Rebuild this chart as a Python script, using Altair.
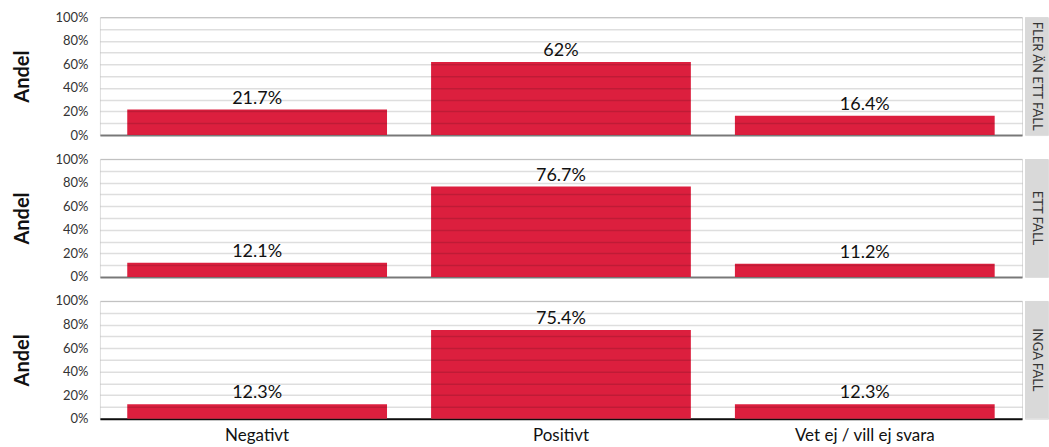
import altair as alt
import pandas as pd

groups = ["FLER ÄN ETT FALL", "ETT FALL", "INGA FALL"]
categories = ["Negativt", "Positivt", "Vet ej / vill ej svara"]
values_fler = [21.7, 62.0, 16.4]
values_ett = [12.1, 76.7, 11.2]
values_inga = [12.3, 75.4, 12.3]
series = [values_fler, values_ett, values_inga]
grid_values = [0, 10, 20, 30, 40, 50, 60, 70, 80, 90, 100]

BAR = "#DC1F3E"
W, H = 923, 118
FONT = "Lato"

rows = []
for gi, (g, vals) in enumerate(zip(groups, series)):
    bottom = gi == len(groups) - 1
    df = pd.DataFrame({"kategori": categories, "andel": vals})
    x_axis = alt.Axis(
        title=None, labels=bottom, ticks=False, domain=True,
        domainColor="#111" if bottom else "#8a8a8a", domainWidth=2,
        labelFontSize=17, labelColor="#111", labelPadding=9, labelAngle=0,
        labelFont=FONT,
    )
    x = alt.X("kategori:N", sort=categories, axis=x_axis,
              scale=alt.Scale(paddingInner=0.145, paddingOuter=0.09))
    y = alt.Y(
        "andel:Q",
        scale=alt.Scale(domain=[0, 100], nice=False),
        axis=alt.Axis(
            title="Andel", titleFontSize=20, titleFontWeight="bold",
            titleColor="#111", titleFont=FONT, titlePadding=22,
            values=grid_values, tickCount=11,
            labelExpr="datum.value % 20 == 0 ? datum.value + '%' : ''",
            labelOverlap=False,
            labelFontSize=13, labelColor="#333", labelFont=FONT, labelPadding=12,
            ticks=False, domain=False, grid=True, gridColor="#000",
            gridOpacity=0.13, gridWidth=1.5, zindex=1,
        ),
    )
    base = alt.Chart(df).transform_calculate(
        label="format(datum.andel, '.1~f') + '%'"
    ).encode(x=x, y=y)
    bars = base.mark_bar(color=BAR)
    text = base.mark_text(
        baseline="bottom", dy=-2, fontSize=18, color="#111", font=FONT
    ).encode(text="label:N")
    panel = alt.layer(bars, text).properties(width=W, height=H)

    sdf = pd.DataFrame({"grupp": [g]})
    strip_rect = alt.Chart(sdf).mark_rect(color="#d9d9d9").encode(
        x=alt.value(0), x2=alt.value(23), y=alt.value(0), y2=alt.value(H)
    )
    strip_text = alt.Chart(sdf).mark_text(
        angle=90, fontSize=13, color="#333", font=FONT, align="center",
        baseline="middle",
    ).encode(x=alt.value(12), y=alt.value(H / 2), text="grupp:N")
    strip = alt.layer(strip_rect, strip_text).properties(width=23, height=H)

    rows.append(alt.hconcat(panel, strip, spacing=1))

chart = alt.vconcat(*rows, spacing=9).properties(
    padding={"left": 12, "top": 10, "right": 0, "bottom": 0}
).configure_view(stroke=None).configure(font=FONT)

chart.save("out.html", embed_options={"renderer": "svg", "actions": False})
